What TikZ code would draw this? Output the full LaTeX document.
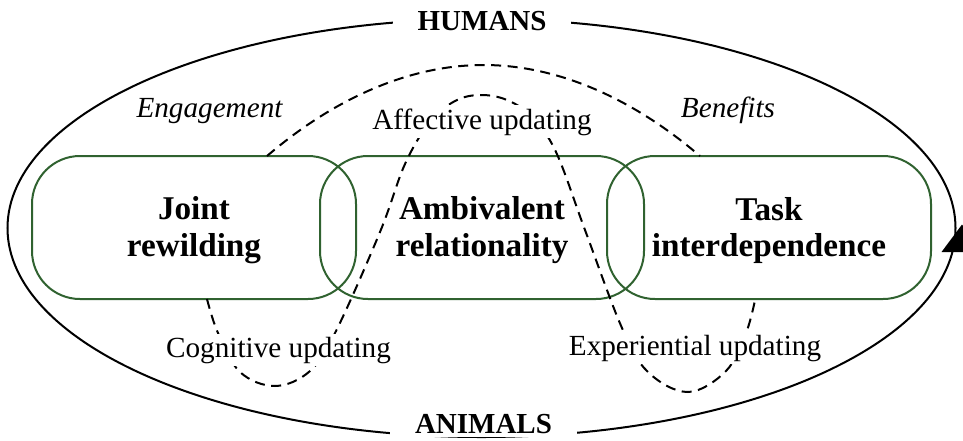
\documentclass[tikz,border=0pt]{standalone}
\usepackage{fontspec}
\setmainfont{Liberation Serif}
\definecolor{boxgreen}{RGB}{48,98,48}
\begin{document}
\begin{tikzpicture}[x=1pt,y=-1pt,
  stadium/.style={draw=boxgreen, line width=2pt, rounded corners=48pt, minimum width=324pt, minimum height=143pt, inner sep=0pt},
  boxtext/.style={font=\fontsize{33.2}{36.5}\selectfont\bfseries, align=center, inner sep=0pt},
  lbl/.style={font=\fontsize{29.2}{32}\selectfont, fill=white, inner sep=3pt, anchor=base},
  pole/.style={font=\fontsize{29}{32}\selectfont\bfseries, fill=white, inner xsep=25pt, inner ysep=4pt, anchor=base},
  flow/.style={dash pattern=on 10pt off 6.5pt, line width=2pt},
]
\useasboundingbox (0,0) rectangle (963,440);
% outer cycle
\draw[line width=2pt] (481.5,228) ellipse [x radius=474pt, y radius=209pt];
\fill (941.5,252) -- (962,224.5) -- (982,252) -- cycle;
% boxes
\node[stadium] (jr) at (194,227.5) {};
\node[stadium] (ar) at (482,227.5) {};
\node[stadium] (ti) at (769,227.5) {};
\node[boxtext] (jrt) at (194,230.3) {Joint\\rewilding};
\node[boxtext] (art) at (482,230.3) {Ambivalent\\relationality};
\node[boxtext] (tit) at (769,230.3) {Task\\interdependence};
% dashed flows
\draw[flow] (267,156) parabola bend (483.5,65) (700,156);
\draw[flow] plot[smooth, tension=0.6] coordinates {
  (207,299) (218,333) (240,372) (275,386) (310,371) (336,331) (380,232)
  (405,164) (430,122) (455,101) (480,95) (507,100) (532,117) (556,152)
  (585,230) (622,328) (648,372) (688,392) (726,371) (746,333) (755,300)};
% labels
\node[pole] (hum) at (482,30.7) {HUMANS};
\node[pole] (ani) at (483.5,433) {ANIMALS};
\node[lbl] (eng) at (209.5,117) {\itshape Engagement};
\node[lbl] (ben) at (728,117) {\itshape Benefits};
\node[lbl] (aff) at (482,129) {Affective updating};
\node[lbl] (cog) at (278.5,357) {Cognitive updating};
\node[lbl] (exp) at (695,355) {Experiential updating};
\end{tikzpicture}
\end{document}
